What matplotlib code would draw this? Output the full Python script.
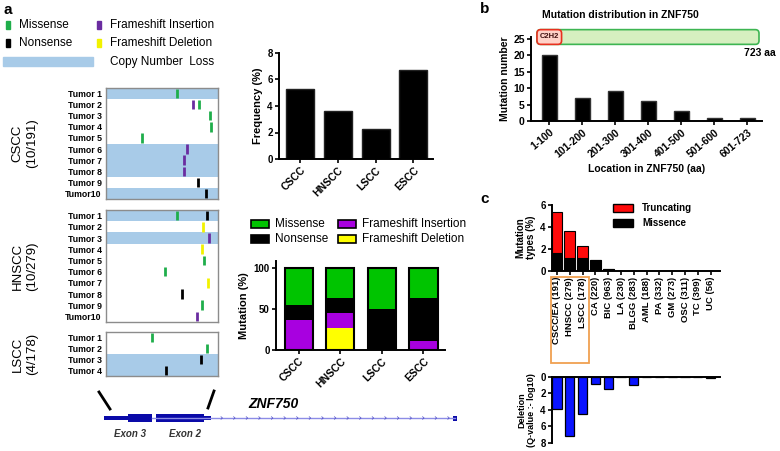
import matplotlib
matplotlib.use('Agg')
import matplotlib.pyplot as plt
from matplotlib.patches import Rectangle, FancyBboxPatch
import numpy as np

plt.rcParams['font.family'] = ['Liberation Sans', 'DejaVu Sans']

# data - panel a, oncoprint (tumor, relative position along gene, type)
tumor_names = ['Tumor 1', 'Tumor 2', 'Tumor 3', 'Tumor 4', 'Tumor 5',
               'Tumor 6', 'Tumor 7', 'Tumor 8', 'Tumor 9', 'Tumor10']
cscc_cnl = [1, 6, 7, 8, 10]
cscc_mut = [(1, 0.63, 'mis'), (2, 0.78, 'ins'), (2, 0.83, 'mis'), (3, 0.93, 'mis'),
            (4, 0.94, 'mis'), (5, 0.32, 'mis'), (6, 0.72, 'ins'), (7, 0.70, 'ins'),
            (8, 0.70, 'ins'), (9, 0.82, 'non'), (10, 0.89, 'non')]
hnscc_cnl = [1, 3]
hnscc_mut = [(1, 0.63, 'mis'), (1, 0.90, 'non'), (2, 0.87, 'del'), (3, 0.92, 'ins'),
             (4, 0.86, 'del'), (5, 0.875, 'mis'), (6, 0.53, 'mis'), (7, 0.91, 'del'),
             (8, 0.68, 'non'), (9, 0.86, 'mis'), (10, 0.81, 'ins')]
lscc_cnl = [3, 4]
lscc_mut = [(1, 0.41, 'mis'), (2, 0.90, 'mis'), (3, 0.85, 'non'), (4, 0.535, 'non')]

groups = ['CSCC', 'HNSCC', 'LSCC', 'ESCC']
frequency = [5.3, 3.6, 2.3, 6.7]
pct_del = [0, 27.3, 0, 0]
pct_ins = [36.4, 18.2, 0, 11]
pct_non = [18.2, 18.2, 50, 53]
pct_mis = [45.4, 36.3, 50, 36]

# panel b
loc_bins = ['1-100', '101-200', '201-300', '301-400', '401-500', '501-600', '601-723']
loc_counts = [20, 7, 9, 6, 3, 1, 1]
protein_len = 723
c2h2_end = 80

# panel c
cancer_types = ['CSCC/EA (191)', 'HNSCC (279)', 'LSCC (178)', 'CA (220)', 'BIC (963)',
                'LA (230)', 'BLGG (283)', 'AML (188)', 'PA (332)', 'GM (273)',
                'OSC (311)', 'TC (399)', 'UC (56)']
missense_pct = [1.65, 1.15, 1.15, 0.95, 0.2, 0, 0, 0, 0, 0, 0, 0, 0]
truncating_pct = [3.7, 2.5, 1.1, 0, 0, 0, 0, 0, 0, 0, 0, 0, 0]
deletion_q = [3.9, 7.2, 4.5, 0.9, 1.5, 0, 1.0, 0, 0, 0, 0, 0, 0.1]

# gene model (pixel x along the drawing)
utr_parts = [(104, 128), (204, 211)]
exon_parts = [(128, 152), (156, 204)]
intron_span = (152, 455)

# colours
onco_col = {'mis': '#1fae4b', 'non': '#000000', 'ins': '#6a2ca0', 'del': '#f2f200'}
cnl_col = '#a8cbe8'
bar_col = {'mis': '#00c400', 'non': '#000000', 'ins': '#a800e0', 'del': '#ffff00'}

W, H = 780, 451
fig = plt.figure(figsize=(W / 100, H / 100), dpi=100)


def px_axes(x0, y0, x1, y1):
    return fig.add_axes([x0 / W, 1 - y1 / H, (x1 - x0) / W, (y1 - y0) / H])


def style_bar_axes(ax, size=6.5, xsize=None):
    for s in ['top', 'right']:
        ax.spines[s].set_visible(False)
    for s in ['left', 'bottom']:
        ax.spines[s].set_linewidth(1.4)
    ax.tick_params(width=1.2, length=3, labelsize=size, pad=1.5)
    if xsize:
        ax.tick_params(axis='x', labelsize=xsize)
    for t in ax.get_yticklabels() + ax.get_xticklabels():
        t.set_fontweight('bold')


def oncoprint(box, n, cnl, muts):
    ax = px_axes(*box)
    ax.set_xlim(0, 1)
    ax.set_ylim(n + 0.5, 0.5)
    for r in cnl:
        ax.axhspan(r - 0.5, r + 0.5, color=cnl_col, lw=0)
    for t, pos, kind in muts:
        ax.vlines(pos, t - 0.42, t + 0.42, color=onco_col[kind], lw=2)
    ax.set_yticks(range(1, n + 1))
    ax.set_yticklabels(tumor_names[:n], fontsize=6.3, fontweight='bold')
    ax.set_xticks([])
    ax.tick_params(length=0, pad=3)
    for s in ax.spines.values():
        s.set_color('#8c8c8c')
        s.set_linewidth(1)
    return ax


oncoprint((106, 88, 218, 199), 10, cscc_cnl, cscc_mut)
oncoprint((106, 210, 218, 322), 10, hnscc_cnl, hnscc_mut)
oncoprint((106, 332, 218, 376), 4, lscc_cnl, lscc_mut)

for label, yc in [('CSCC\n(10/191)', 143), ('HNSCC\n(10/279)', 266), ('LSCC\n(4/178)', 354)]:
    fig.text(25 / W, 1 - yc / H, label, rotation=90, ha='center', va='center',
             fontsize=9.5, linespacing=1.3)

# frequency bars
ax = px_axes(279, 53, 433, 159)
x = np.arange(len(groups))
ax.bar(x, frequency, width=0.74, color='black', edgecolor='#222222', lw=1)
ax.set_xlim(-0.56, 3.52)
ax.set_ylim(0, 8)
ax.set_yticks([0, 2, 4, 6, 8])
ax.set_xticks(x)
ax.set_xticklabels(groups, rotation=45, ha='right', rotation_mode='anchor')
ax.set_ylabel('Frequency (%)', fontsize=8, fontweight='bold', labelpad=3)
style_bar_axes(ax, 7, 7.5)

# stacked mutation types
ax = px_axes(276, 260.6, 445, 350)
x = np.arange(len(groups))
bottom = np.zeros(len(groups))
for vals, key in [(pct_del, 'del'), (pct_ins, 'ins'), (pct_non, 'non'), (pct_mis, 'mis')]:
    ax.bar(x, vals, bottom=bottom, width=0.68, color=bar_col[key], edgecolor='none')
    bottom += np.array(vals)
ax.bar(x, bottom, width=0.68, fill=False, edgecolor='black', lw=1.5)
ax.set_xlim(-0.55, 3.52)
ax.set_ylim(0, 109)
ax.set_yticks([0, 50, 100])
ax.set_xticks(x)
ax.set_xticklabels(groups, rotation=45, ha='right', rotation_mode='anchor')
ax.set_ylabel('Mutation (%)', fontsize=8, fontweight='bold', labelpad=3)
style_bar_axes(ax, 7, 7.5)

# panel b
ax = px_axes(531, 37, 762, 121)
x = np.arange(len(loc_bins))
ax.bar(x, loc_counts, width=0.47, color='black', edgecolor='#333333', lw=1)
ax.set_xlim(-0.56, 6.44)
ax.set_ylim(0, 25.5)
ax.set_yticks([0, 5, 10, 15, 20, 25])
ax.set_xticks(x)
ax.set_xticklabels(loc_bins, rotation=40, ha='right', rotation_mode='anchor')
ax.set_ylabel('Mutation number', fontsize=7.5, fontweight='bold', labelpad=2)
ax.set_xlabel('Location in ZNF750 (aa)', fontsize=7.5, fontweight='bold', labelpad=3)
style_bar_axes(ax, 7.5, 7.5)

dom = px_axes(537, 29, 759, 45)
dom.set_xlim(0, protein_len)
dom.set_ylim(0, 1)
dom.axis('off')
asp = (222 / protein_len) / 16
dom.add_patch(FancyBboxPatch((0, 0.04), protein_len, 0.92,
                             boxstyle='round,pad=0,rounding_size=12', mutation_aspect=asp,
                             fc='#d6efc0', ec='#3db552', lw=1.2, clip_on=False))
dom.add_patch(FancyBboxPatch((0, 0.04), c2h2_end, 0.92,
                             boxstyle='round,pad=0,rounding_size=12', mutation_aspect=asp,
                             fc='#ffd2c8', ec='#e8301f', lw=1.2, clip_on=False))
dom.text(c2h2_end / 2, 0.55, 'C2H2', ha='center', va='center', fontsize=5.5,
         fontweight='bold', color='#401010')

# panel c top
xc = np.arange(len(cancer_types))
ax = px_axes(552, 204.7, 720, 270.7)
ax.bar(xc, missense_pct, width=0.85, color='black', edgecolor='black', lw=0.8)
ax.bar(xc, truncating_pct, bottom=missense_pct, width=0.85, color='#ff0a0a',
       edgecolor='black', lw=0.8)
ax.set_xlim(-0.39, 12.73)
ax.set_ylim(0, 6)
ax.set_yticks([0, 2, 4, 6])
ax.set_xticks(xc)
ax.set_xticklabels(cancer_types, rotation=90)
ax.set_ylabel('Mutation\ntypes (%)', fontsize=7, fontweight='bold', labelpad=3,
              linespacing=1.1)
style_bar_axes(ax, 7, 6.8)

# panel c bottom
ax = px_axes(552, 376.7, 720, 442.7)
ax.bar(xc, deletion_q, width=0.72, color='#0a14ff', edgecolor='black', lw=0.9)
ax.set_xlim(-0.39, 12.73)
ax.set_ylim(8, 0)
ax.set_yticks([0, 2, 4, 6, 8])
ax.set_xticks([])
style_bar_axes(ax, 7)
ax.spines['bottom'].set_visible(False)
ax.spines['top'].set_visible(True)
ax.spines['top'].set_linewidth(1.4)
ax.set_ylabel('Deletion\n(Q-value :- log10)', fontsize=6.5, fontweight='bold',
              labelpad=3, linespacing=1.1)

# overlay in pixel units: legends, gene model, panel letters
ov = fig.add_axes([0, 0, 1, 1], zorder=10)
ov.set_xlim(0, W)
ov.set_ylim(H, 0)
ov.axis('off')
ov.patch.set_visible(False)

for letter, lx, ly in [('a', 3, 10), ('b', 480, 9), ('c', 480, 199)]:
    ov.text(lx, ly, letter, fontsize=11, fontweight='bold', va='center')

# legend a (top)
for (lx, ly, key, name) in [(6, 25, 'mis', 'Missense'), (97, 25, 'ins', 'Frameshift Insertion'),
                            (6, 43, 'non', 'Nonsense'), (97, 43, 'del', 'Frameshift Deletion')]:
    ov.add_patch(Rectangle((lx, ly - 4), 4, 8, color=onco_col[key]))
    ov.text(lx + 13, ly, name, fontsize=8.5, va='center')
ov.add_patch(Rectangle((3, 57), 90, 9, color=cnl_col))
ov.text(110, 62, 'Copy Number  Loss', fontsize=8.5, va='center')

# legend a (middle)
for (lx, ly, key, name) in [(251, 224, 'mis', 'Missense'), (338, 224, 'ins', 'Frameshift Insertion'),
                            (251, 239, 'non', 'Nonsense'), (338, 239, 'del', 'Frameshift Deletion')]:
    ov.add_patch(Rectangle((lx, ly - 4), 18, 8, fc=bar_col[key], ec='black', lw=1.2))
    ov.text(lx + 24, ly, name, fontsize=8.5, va='center')

# legend c
for (ly, col, name) in [(208, '#ff0a0a', 'Truncating'), (223, 'black', 'Missence')]:
    ov.add_patch(Rectangle((613, ly - 4), 20, 8, fc=col, ec='black', lw=1))
    ov.text(642, ly, name, fontsize=7, fontweight='bold', va='center')

# orange box around squamous types
ov.add_patch(Rectangle((551, 277), 38, 86, fill=False, ec='#f0a050', lw=1.3))

# gene model
gy = 418
ov.plot([99, 110], [392, 409], color='black', lw=2)
ov.plot([214, 208], [391, 408], color='black', lw=2)
ov.plot(intron_span, [gy, gy], color='#8c8ce6', lw=1)
for tx in np.arange(222, 450, 12.6):
    ov.plot([tx - 1, tx + 0.5, tx - 1], [gy - 1.3, gy, gy + 1.3], color='#5050c8', lw=0.5)
for a, b in utr_parts:
    ov.add_patch(Rectangle((a, gy - 2), b - a, 4, color='#0a0aa8', lw=0))
for a, b in exon_parts:
    ov.add_patch(Rectangle((a, gy - 4), b - a, 8, color='#0a0aa8', lw=0))
ov.add_patch(Rectangle((453, gy - 2.5), 4, 5, color='#0a0aa8', lw=0))
ov.text(130, 434, 'Exon 3', fontsize=7, style='italic', fontweight='bold', color='#333333', va='center', ha='center')
ov.text(185, 434, 'Exon 2', fontsize=7, style='italic', fontweight='bold', color='#333333', va='center', ha='center')
ov.text(248, 404, 'ZNF750', fontsize=10, style='italic', fontweight='bold', va='center')

# panel b annotations
ov.text(620, 15, 'Mutation distribution in ZNF750', fontsize=7.5, fontweight='bold',
        ha='center', va='center')
ov.text(776, 53, '723 aa', fontsize=7.5, fontweight='bold', ha='right', va='center')

fig.savefig('out.png', dpi=100)
